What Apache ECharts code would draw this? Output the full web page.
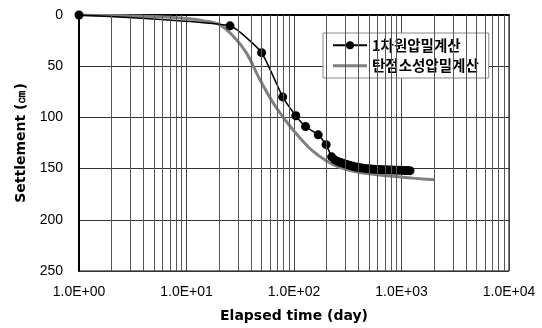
<!DOCTYPE html>
<html><head><meta charset="utf-8">
<script src="https://cdn.jsdelivr.net/npm/echarts@6/dist/echarts.min.js"></script>
<style>html,body{margin:0;padding:0;background:#fff}#c{width:542px;height:328px}</style>
</head><body><div id="c"></div>
<script>
const seriesNames = ['1차원압밀계산', '탄점소성압밀계산'];
// elapsed time (day), settlement (cm)
const oneDimTime = [1, 25.4, 50, 78.5, 104, 128, 168, 199, 224, 240, 256, 273, 291, 311, 332, 354, 378, 403, 430, 459, 490, 522, 557, 594, 634, 676, 721, 770, 821, 876, 934, 996, 1063, 1134, 1200];
const oneDimSettle = [0, 10.6, 36.8, 80, 98.4, 109, 117, 126.6, 138.5, 141.5, 143, 144, 145, 146, 147, 147.8, 148.4, 149, 149.4, 149.8, 150.1, 150.4, 150.6, 150.8, 151, 151.1, 151.2, 151.3, 151.4, 151.5, 151.6, 151.7, 151.8, 151.9, 152];
const epTime = [1, 5, 10, 15, 20.5, 27.3, 36.3, 48.4, 64.1, 85.6, 113.5, 150, 201, 268, 410, 730, 1290, 2040];
const epSettle = [0, 1.5, 3.5, 6, 9.6, 20.8, 37.5, 63.5, 86, 104.5, 120, 133, 142.6, 149, 153.8, 157, 159.3, 161];
const xTickLabels = ['1.0E+00', '1.0E+01', '1.0E+02', '1.0E+03', '1.0E+04'];
const yTicks = [0, 50, 100, 150, 200, 250];
const decades = [1, 10, 100, 1000];
const minorTicks = [];
decades.forEach(d => { for (let k = 2; k <= 9; k++) minorTicks.push(k * d); });

const chart = echarts.init(document.getElementById('c'));
chart.setOption({
  animation: false,
  backgroundColor: '#fff',
  grid: { left: 79, right: 33, top: 15, bottom: 53, show: true, borderColor: '#000', borderWidth: 1 },
  legend: {
    left: 323, top: 33, orient: 'vertical',
    backgroundColor: '#fff', borderColor: '#888', borderWidth: 1,
    padding: [5, 10, 5, 9], itemGap: 6, itemWidth: 34, itemHeight: 10,
    textStyle: { fontFamily: 'Noto Sans CJK KR', fontSize: 14.5, fontWeight: 'bold', color: '#000' },
    data: [
      { name: seriesNames[0] },
      { name: seriesNames[1], icon: 'path://M0,0H34V3H0Z' }
    ]
  },
  xAxis: {
    type: 'log', logBase: 10, min: 1, max: 10000,
    name: 'Elapsed time (day)', nameLocation: 'middle', nameGap: 38,
    nameTextStyle: { fontFamily: 'DejaVu Sans', fontWeight: 'bold', fontSize: 14, color: '#000' },
    axisLine: { lineStyle: { color: '#000', width: 2 } },
    axisTick: { show: false },
    axisLabel: { fontFamily: 'Liberation Sans', fontSize: 14, color: '#000', margin: 14,
      formatter: v => xTickLabels[Math.round(Math.log10(v))] },
    splitLine: { show: true, lineStyle: { color: '#444', width: 1 } }
  },
  yAxis: {
    type: 'value', inverse: true, min: 0, max: 250, interval: 50,
    name: 'Settlement (㎝)', nameLocation: 'middle', nameGap: 48,
    nameTextStyle: { fontFamily: 'DejaVu Sans', fontWeight: 'bold', fontSize: 14, color: '#000' },
    axisLine: { show: true, lineStyle: { color: '#000', width: 2 } },
    axisTick: { show: false },
    axisLabel: { fontFamily: 'Liberation Sans', fontSize: 14, color: '#000', margin: 16,
      formatter: v => yTicks.includes(v) ? String(v) : '' },
    splitLine: { show: true, lineStyle: { color: '#333', width: 1 } }
  },
  series: [
    {
      type: 'line', name: '_grid', data: [], z: 1, silent: true,
      markLine: {
        silent: true, symbol: 'none', animation: false,
        label: { show: false },
        lineStyle: { color: '#555', width: 1, type: 'solid' },
        data: minorTicks.map(v => ({ xAxis: v }))
      }
    },
    {
      type: 'line', name: seriesNames[1], z: 3,
      data: epTime.map((t, i) => [t, epSettle[i]]),
      showSymbol: false, symbol: 'none', smooth: 0.3,
      lineStyle: { color: '#808080', width: 3 }, itemStyle: { color: '#808080' }
    },
    {
      type: 'line', name: seriesNames[0], z: 4,
      data: oneDimTime.map((t, i) => [t, oneDimSettle[i]]),
      symbol: 'circle', symbolSize: 9, smooth: 0.15,
      lineStyle: { color: '#000', width: 1.5 }, itemStyle: { color: '#000' }
    }
  ]
});
</script></body></html>
